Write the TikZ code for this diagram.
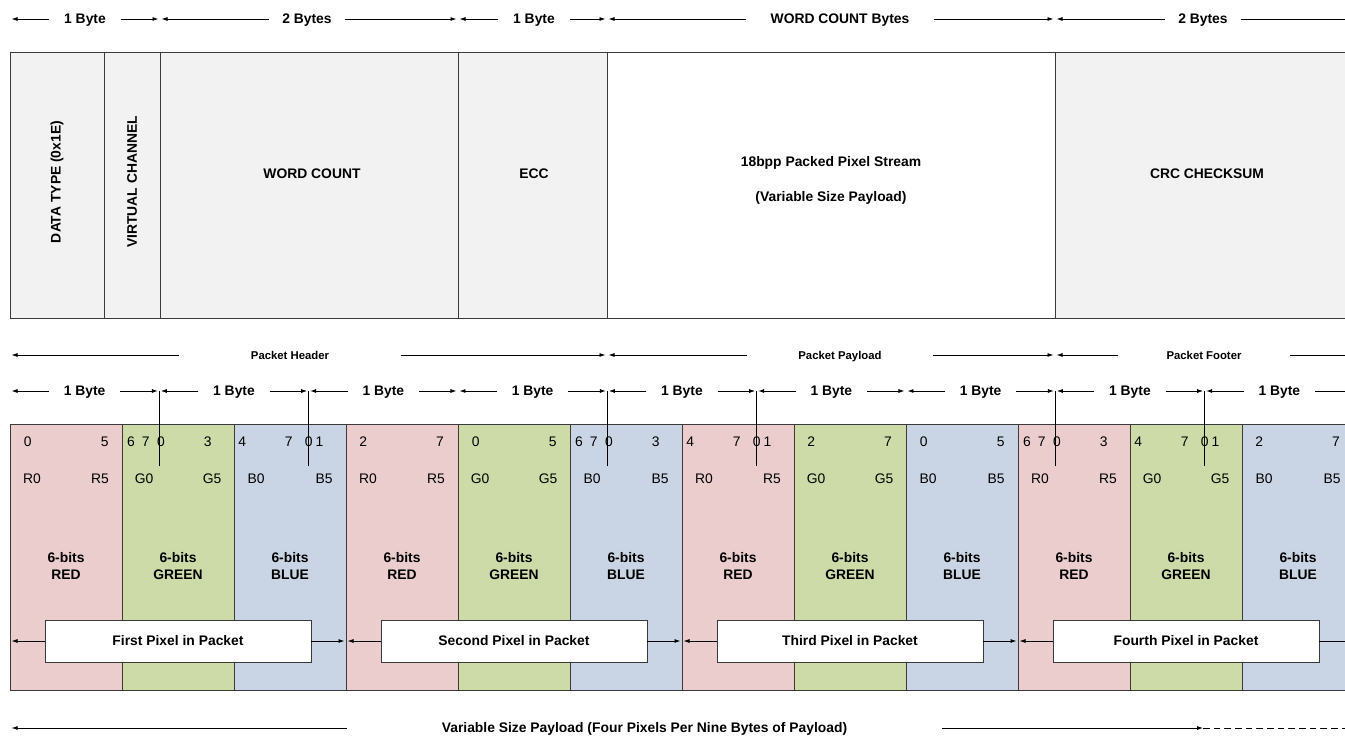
\documentclass[tikz,border=0pt]{standalone}
\usepackage{fontspec}
\setmainfont{Liberation Sans}
\usetikzlibrary{arrows.meta,positioning,calc}
\definecolor{PktLine}{HTML}{3A3A3A}
\definecolor{PktGray}{HTML}{F2F2F2}
\definecolor{PktRed}{HTML}{EACDCC}
\definecolor{PktGreen}{HTML}{CDDBA9}
\definecolor{PktBlue}{HTML}{C9D5E4}

\begin{document}
\begin{tikzpicture}[x=0.75pt, y=-0.75pt,
    font=\fontsize{10.4}{12.5}\selectfont\bfseries,
    dim/.style={-{Latex[length=4.5pt,width=3pt]}, line width=0.6pt},
    dimlbl/.style={inner xsep=11pt, inner ysep=0pt, text height=7.4pt, text depth=0pt},
    cell/.style={draw=PktLine, line width=0.6pt},
    bitnum/.style={font=\fontsize{10.4}{12.5}\selectfont, inner sep=0pt},
    pixbox/.style={draw=PktLine, fill=white, line width=0.6pt, minimum width=199.5pt, minimum height=31.5pt}]
    \useasboundingbox (0,0) rectangle (1345,736);
    \clip (0,0) rectangle (1345,736);

    % Byte counts over the packet
    \foreach \a/\b/\c/\t/\s [count=\i] in {10/160/85/1 Byte/11pt, 160/458/307/2 Bytes/10pt, 458/607/534/1 Byte/11pt, 607/1055/840/WORD COUNT Bytes/18pt, 1055/1380/1203/2 Bytes/10pt} {
      \node[dimlbl, inner xsep=\s] (top\i) at (\c,19) {\t};
      \coordinate (topl\i) at (\a+1.5,19);
      \coordinate (topr\i) at (\b-1.5,19);
      \draw[dim] (top\i) -- (topl\i);
      \draw[dim] (top\i) -- (topr\i);
    }

    % Packet fields
    \draw[cell, fill=PktGray] (10,52) rectangle (104,318);
    \draw[cell, fill=PktGray] (104,52) rectangle (160,318);
    \draw[cell, fill=PktGray] (160,52) rectangle (458,318);
    \draw[cell, fill=PktGray] (458,52) rectangle (607,318);
    \draw[cell, fill=white] (607,52) rectangle (1055,318);
    \draw[cell, fill=PktGray] (1055,52) rectangle (1380,318);
    \node[rotate=90] (dtype) at (57,182) {DATA TYPE (0x1E)};
    \node[rotate=90] (vchan) at (132,182) {VIRTUAL CHANNEL};
    \node (wc) at (312,174) {WORD COUNT};
    \node (ecc) at (534,174) {ECC};
    \node[align=center] (pay) at (831,180.5) {18bpp Packed Pixel Stream\\[13.5pt](Variable Size Payload)};
    \node (crc) at (1207,174) {CRC CHECKSUM};

    % Header / payload / footer
    \begin{scope}[font=\fontsize{8.5}{10}\selectfont\bfseries]
      \node[dimlbl, text height=6pt, inner xsep=54pt] (hdr) at (290,355) {Packet Header};
      \node[dimlbl, text height=6pt, inner xsep=38pt] (pld) at (840,355) {Packet Payload};
      \node[dimlbl, text height=6pt, inner xsep=36pt] (ftr) at (1204,355) {Packet Footer};
    \end{scope}
    \coordinate (hdrl) at (11.5,355);
    \coordinate (hdrr) at (605.5,355);
    \coordinate (pldl) at (608.5,355);
    \coordinate (pldr) at (1053.5,355);
    \coordinate (ftrl) at (1056.5,355);
    \coordinate (ftrr) at (1380,355);
    \draw[dim] (hdr) -- (hdrl);
    \draw[dim] (hdr) -- (hdrr);
    \draw[dim] (pld) -- (pldl);
    \draw[dim] (pld) -- (pldr);
    \draw[dim] (ftr) -- (ftrl);
    \draw[dim] (ftr) -- (ftrr);

    % Bytes
    \foreach \i in {0,...,8} {
      \node[dimlbl] (byte\i) at ({10+149.33*(\i+0.5)},391) {1 Byte};
      \coordinate (bytel\i) at ({11.5+149.33*\i},391);
      \coordinate (byter\i) at ({8.5+149.33*(\i+1)},391);
      \draw[dim] (byte\i) -- (bytel\i);
      \draw[dim] (byte\i) -- (byter\i);
    }

    % Pixel components
    \foreach \k in {0,...,3}
      \foreach \col/\ch/\nm [count=\j from 0] in {PktRed/R/RED, PktGreen/G/GREEN, PktBlue/B/BLUE} {
        \draw[cell, fill=\col] ({10+336*\k+112*\j},424) rectangle ({122+336*\k+112*\j},690);
        \node[bitnum] (lo\k\j) at ({32+336*\k+112*\j},479) {\ch0};
        \node[bitnum] (hi\k\j) at ({100+336*\k+112*\j},479) {\ch5};
        \node[align=center] (bits\k\j) at ({66+336*\k+112*\j},566) {6-bits\\\nm};
      }

    % Bit numbers
    \foreach \k in {0,1,2}
      \foreach \dx/\bitv [count=\m] in {17.7/0, 94.7/5, 121/6, 135.8/7, 151/0, 197.7/3, 232.3/4, 278.7/7, 298.7/0, 309.5/1, 353.3/2, 430/7}
        \node[bitnum] (bit\k-\m) at ({10+448*\k+\dx},442) {\bitv};

    % Byte boundaries inside pixels
    \foreach \i in {1,2,4,5,7,8}
      \draw[line width=0.6pt] ({10+149.33*\i},391) -- ({10+149.33*\i},466);

    % Pixels
    \foreach \t [count=\j from 0] in {First, Second, Third, Fourth} {
      \node[pixbox] (pix\j) at ({178+336*\j},641) {\t\ Pixel in Packet};
      \coordinate (pixl\j) at ({11.5+336*\j},641);
      \coordinate (pixr\j) at ({344.5+336*\j},641);
      \draw[dim] (pix\j) -- (pixl\j);
      \draw[dim] (pix\j) -- (pixr\j);
    }

    % Payload size
    \node[dimlbl, inner xsep=71pt] (var) at (644.5,728) {Variable Size Payload (Four Pixels Per Nine Bytes of Payload)};
    \coordinate (varl) at (11.5,728);
    \coordinate (varr) at (1203,728);
    \coordinate (varend) at (1345,728);
    \draw[dim] (var) -- (varl);
    \draw[dim] (var) -- (varr);
    \draw[line width=0.6pt, dash pattern=on 5pt off 3pt] (varr) -- (varend);
\end{tikzpicture}
\end{document}
